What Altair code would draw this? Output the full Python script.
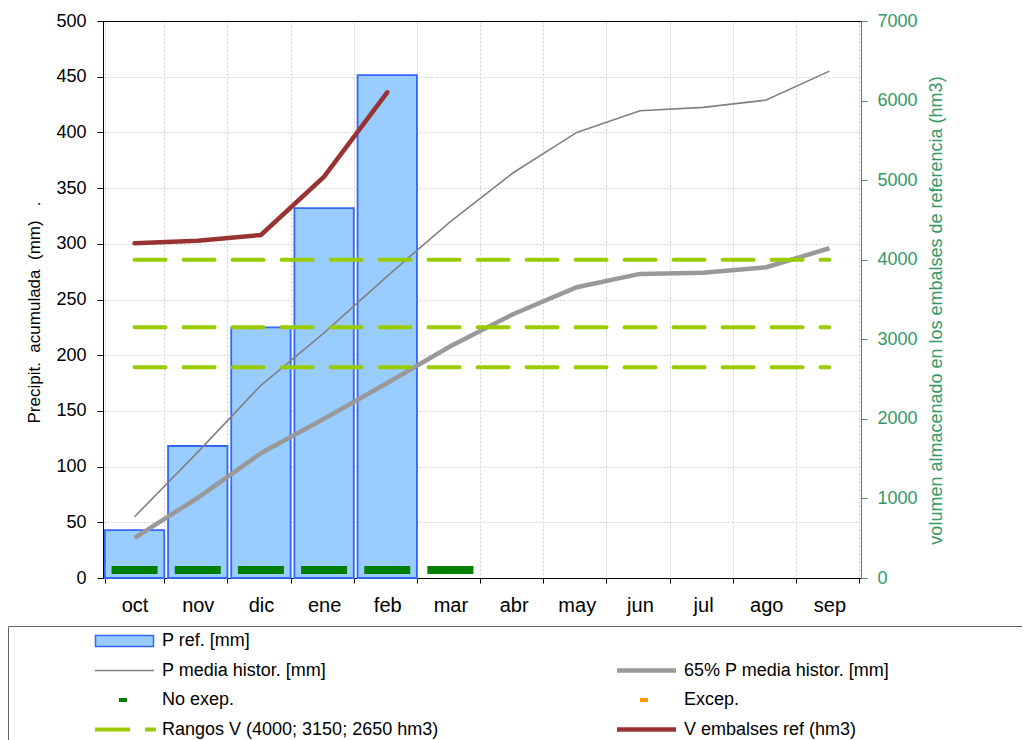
import altair as alt
import pandas as pd

# ---------------- data ----------------
meses = ["oct", "nov", "dic", "ene", "feb", "mar", "abr", "may", "jun", "jul", "ago", "sep"]
p_ref = [43, 118.5, 225, 332, 451.5]                     # P ref. [mm] (oct-feb)
p_media = [55, 113, 173, 220, 271, 320, 364, 400, 419.5, 422.5, 429, 455]   # P media histor.
p_65 = [36, 72, 112, 143, 175, 208, 237, 261, 273, 274, 279, 296]           # 65% P media histor.
v_emb = [4206, 4239, 4311, 5043, 6104]                   # V embalses ref (hm3)
rangos = [4000, 3150, 2650]                              # Rangos V (hm3)
no_exep_meses = ["oct", "nov", "dic", "ene", "feb", "mar"]
no_exep_val = [7.2, 7.2, 7.2, 7.2, 7.2, 7.2]

# legend entries (listed column by column: left column, then right column)
legend_labels = ["P ref. [mm]", "P media histor. [mm]", "No exep.", "Rangos V (4000; 3150; 2650 hm3)",
                 " ", "65% P media histor. [mm]", "Excep.", "V embalses ref (hm3)"]
legend_fills = ["#99ccff", "#808080", "#007f00", "#99cc00",
                "transparent", "#999999", "#ff9900", "#993333"]
legend_strokes = ["#3366ff", "transparent", "transparent", "transparent",
                  "transparent", "transparent", "transparent", "transparent"]
legend_shapes = [
    "M-1.05,-0.55H4.75V0.55H-1.05Z",
    "M-1.1,-0.08H4.8V0.08H-1.1Z",
    "M1.3,-0.2H2.1V0.2H1.3Z",
    "M-1.1,-0.2H2.4V0.2H-1.1Z M3.9,-0.2H5.0V0.2H3.9Z",
    "M0,0",
    "M-1.1,-0.22H4.8V0.22H-1.1Z",
    "M1.2,-0.2H2.0V0.2H1.2Z",
    "M-1.1,-0.22H4.8V0.22H-1.1Z",
]

# ---------------- tables ----------------
df_bar = pd.DataFrame({"mes": meses[:5], "p": p_ref})
df_hist = pd.DataFrame({"mes": meses, "media": p_media, "p65": p_65, "idx": list(range(12))})
df_v = pd.DataFrame({"mes": meses[:5], "v": v_emb, "idx": list(range(5))})
df_rng = pd.DataFrame([{"mes": m, "v": r, "nivel": str(r), "idx": i}
                       for r in rangos for i, m in enumerate(meses)])
df_mark = pd.DataFrame({"mes": no_exep_meses, "y": no_exep_val})
df_leg = pd.DataFrame({"serie": legend_labels})

FONT = "Liberation Sans"

X = alt.X("mes:N",
          scale=alt.Scale(domain=meses, paddingInner=0.06, paddingOuter=0.03),
          axis=alt.Axis(title=None, labelAngle=0, labelFontSize=20, labelColor="#000",
                        labelPadding=12, tickSize=5, tickColor="#000", domainColor="#000",
                        tickBand="extent", grid=True))

left_axis = alt.Axis(values=list(range(0, 501, 50)), title="Precipit.\u00a0 acumulada\u00a0 (mm)\u00a0\u00a0\u00a0.",
                     titleAngle=270, titleBaseline="bottom", titleX=-60, titleY=291,
                     titleFontSize=17, titleFontWeight="normal", titleColor="#000",
                     labelFontSize=18, labelPadding=11, labelColor="#000", tickSize=6,
                     tickColor="#000", domainColor="#000", grid=True,
                     gridColor=alt.condition("datum.value == 500", alt.value("#000000"), alt.value("#cfcfcf")),
                     gridDash=alt.condition("datum.value == 500", alt.value([1, 0]), alt.value([2, 2])))
yl_scale = alt.Scale(domain=[0, 500], nice=False)

right_axis = alt.Axis(orient="right", values=list(range(0, 7001, 1000)), format="d",
                      title="volumen almacenado en los embalses de referencia (hm3)",
                      titleAngle=270, titleBaseline="top", titleX=66, titleY=289,
                      titleFontSize=18, titleFontWeight="normal", titleColor="#339966",
                      labelFontSize=18, labelPadding=10, labelColor="#339966", tickSize=6,
                      tickColor="#4a8c6c", domainColor="#4a8c6c", grid=False)
yr_scale = alt.Scale(domain=[0, 7000], nice=False)

bars = alt.Chart(df_bar).mark_bar(fill="#99ccff", stroke="#3366ff", strokeWidth=1.8).encode(
    x=X, y=alt.Y("p:Q", scale=yl_scale, axis=left_axis))

thin = alt.Chart(df_hist).mark_line(color="#808080", strokeWidth=1.6).encode(
    x=X, y=alt.Y("media:Q", scale=yl_scale, axis=left_axis), order=alt.Order("idx:Q"))

thick = alt.Chart(df_hist).mark_line(color="#999999", strokeWidth=4.5).encode(
    x=X, y=alt.Y("p65:Q", scale=yl_scale, axis=left_axis), order=alt.Order("idx:Q"))

marks = alt.Chart(df_mark).mark_tick(color="#007f00", size=46, thickness=8, opacity=1).encode(
    x=X, y=alt.Y("y:Q", scale=yl_scale, axis=left_axis))

left_group = alt.layer(bars, thin, thick, marks)

dashes = alt.Chart(df_rng).mark_line(color="#99cc00", strokeWidth=4, strokeDash=[31, 18],
                                     strokeCap="round").encode(
    x=X, y=alt.Y("v:Q", scale=yr_scale, axis=right_axis),
    detail="nivel:N", order=alt.Order("idx:Q"))

red = alt.Chart(df_v).mark_line(color="#993333", strokeWidth=4.5, strokeCap="round").encode(
    x=X, y=alt.Y("v:Q", scale=yr_scale, axis=right_axis), order=alt.Order("idx:Q"))

right_group = alt.layer(dashes, red)

leg = alt.Legend(title=None, orient="none", legendX=-8, legendY=609, columns=2,
                 columnPadding=175, rowPadding=9.5, labelFontSize=18, labelFont=FONT,
                 labelColor="#000", labelLimit=400, labelOffset=45, symbolSize=400,
                 symbolStrokeWidth=1.5, padding=0)

dummy = alt.Chart(df_leg).transform_filter("false").mark_point(
    filled=True, opacity=1, strokeWidth=1.5).encode(
    fill=alt.Fill("serie:N", scale=alt.Scale(domain=legend_labels, range=legend_fills), legend=leg),
    stroke=alt.Stroke("serie:N", scale=alt.Scale(domain=legend_labels, range=legend_strokes), legend=leg),
    shape=alt.Shape("serie:N", scale=alt.Scale(domain=legend_labels, range=legend_shapes), legend=leg),
)

frame = alt.Chart(pd.DataFrame({"k": [0]})).mark_rect(
    fillOpacity=0, stroke="#666666", strokeWidth=1).encode(
    x=alt.value(-94.5), x2=alt.value(1000), y=alt.value(605.5), y2=alt.value(800))

chart = alt.layer(left_group, right_group, dummy, frame).resolve_scale(
    y="independent"
).properties(
    width=758, height=557,
    padding={"left": 95, "top": 13, "right": 161, "bottom": 162},
    autosize=alt.AutoSizeParams(type="none"),
).configure(font=FONT).configure_view(
    stroke="#000", strokeWidth=1
).configure_axis(
    gridColor="#cfcfcf", gridDash=[2, 2], gridWidth=1, labelFont=FONT, titleFont=FONT
)

chart.save("out.html", embed_options={"renderer": "svg", "actions": False})
